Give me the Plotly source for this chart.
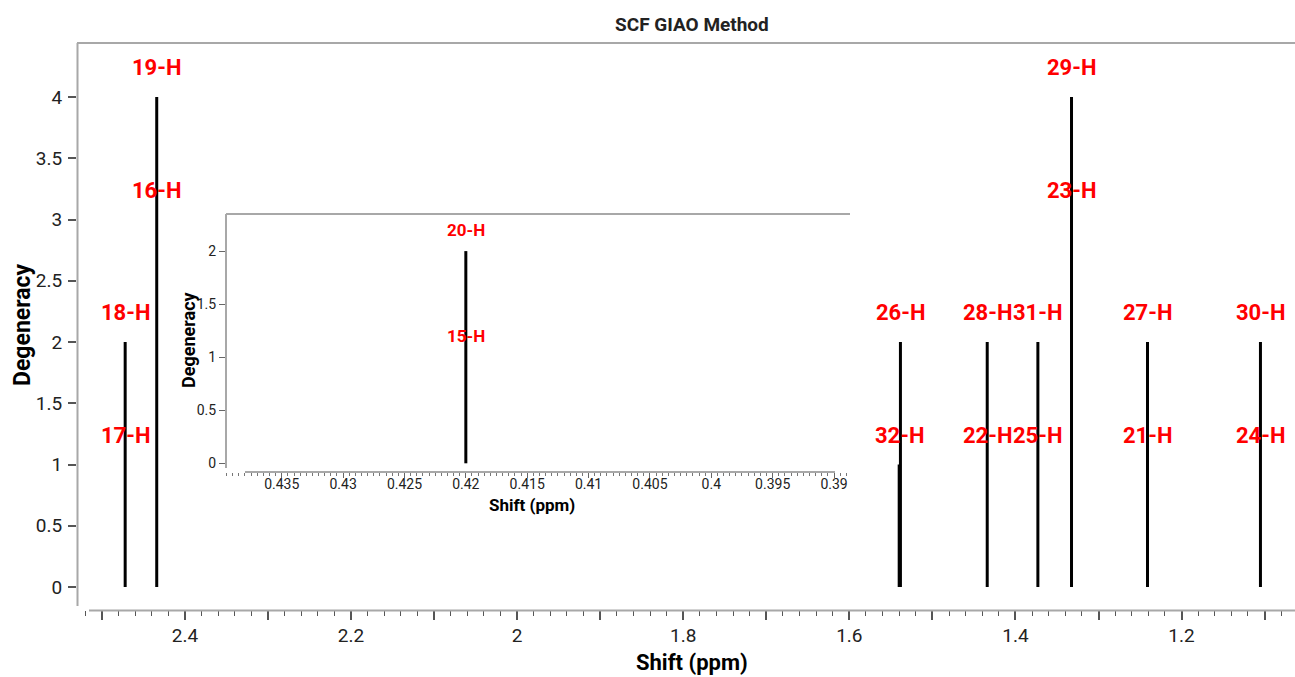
import plotly.graph_objects as go

# ---------------- data ----------------
main_shift = [2.472, 2.434, 1.5385, 1.5400, 1.434, 1.373, 1.3325, 1.241, 1.105]
main_degeneracy = [2, 4, 2, 1, 2, 2, 4, 2, 2]
main_label_top = ["18-H", "19-H", "26-H", "32-H", "28-H", "31-H", "29-H", "27-H", "30-H"]
main_label_low = ["17-H", "16-H", None, None, "22-H", "25-H", "23-H", "21-H", "24-H"]

inset_shift = [0.420]
inset_degeneracy = [2]
inset_label_top = ["20-H"]
inset_label_low = ["15-H"]

main_xticks = [2.5, 2.4, 2.3, 2.2, 2.1, 2.0, 1.9, 1.8, 1.7, 1.6, 1.5, 1.4, 1.3, 1.2, 1.1]
main_xticktext = ["", "2.4", "", "2.2", "", "2", "", "1.8", "", "1.6", "", "1.4", "", "1.2", ""]
main_yticks = [0, 0.5, 1, 1.5, 2, 2.5, 3, 3.5, 4]
inset_xticks = [0.435, 0.43, 0.425, 0.42, 0.415, 0.41, 0.405, 0.4, 0.395, 0.39]
inset_yticks = [0, 0.5, 1, 1.5, 2]

title_text = "SCF GIAO Method"
x_title = "Shift (ppm)"
y_title = "Degeneracy"

# ---------------- layout geometry ----------------
W, H = 1295, 677
L, R, T, B = 77, 1295, 43, 610


def px(xp):
    return (xp - L) / (R - L)


def py(yp):
    return (B - yp) / (B - T)


FONT = "Roboto, Arial, sans-serif"
RED = "#ff0000"
AXC = "#a8a8a8"
TXT = "#222222"

fig = go.Figure()


def stick_trace(xs, hs, xa, ya):
    X, Y = [], []
    for x, h in zip(xs, hs):
        X += [x, x, None]
        Y += [0, h, None]
    return go.Scatter(x=X, y=Y, mode="lines", line=dict(color="black", width=3),
                      xaxis=xa, yaxis=ya, hoverinfo="skip", showlegend=False)


fig.add_trace(stick_trace(main_shift, main_degeneracy, "x", "y"))
fig.add_trace(stick_trace(inset_shift, inset_degeneracy, "x2", "y2"))

annotations = []
for x, h, lt, ll in zip(main_shift, main_degeneracy, main_label_top, main_label_low):
    annotations.append(dict(x=x, y=h + 0.24, xref="x", yref="y", text=lt, showarrow=False,
                            font=dict(family=FONT, size=22, color=RED, weight="bold"),
                            xanchor="center", yanchor="middle"))
    if ll:
        annotations.append(dict(x=x, y=h - 1 + 0.24, xref="x", yref="y", text=ll, showarrow=False,
                                font=dict(family=FONT, size=22, color=RED, weight="bold"),
                                xanchor="center", yanchor="middle"))
for x, h, lt, ll in zip(inset_shift, inset_degeneracy, inset_label_top, inset_label_low):
    annotations.append(dict(x=x, y=h + 0.2, xref="x2", yref="y2", text=lt, showarrow=False,
                            font=dict(family=FONT, size=17, color=RED, weight="bold"),
                            xanchor="center", yanchor="middle"))
    annotations.append(dict(x=x, y=h - 1 + 0.2, xref="x2", yref="y2", text=ll, showarrow=False,
                            font=dict(family=FONT, size=17, color=RED, weight="bold"),
                            xanchor="center", yanchor="middle"))

# titles
annotations.append(dict(x=px(692), y=py(25), xref="paper", yref="paper", text=title_text,
                        showarrow=False, font=dict(family=FONT, size=19, color=TXT, weight="bold"),
                        xanchor="center", yanchor="middle"))
annotations.append(dict(x=px(692), y=py(662), xref="paper", yref="paper", text=x_title,
                        showarrow=False, font=dict(family=FONT, size=22, color="black", weight="bold"),
                        xanchor="center", yanchor="middle"))
annotations.append(dict(x=px(22), y=py(325), xref="paper", yref="paper", text=y_title, textangle=-90,
                        showarrow=False, font=dict(family=FONT, size=23, color="black", weight="bold"),
                        xanchor="center", yanchor="middle"))
annotations.append(dict(x=px(532), y=py(505), xref="paper", yref="paper", text=x_title,
                        showarrow=False, font=dict(family=FONT, size=17, color="black", weight="bold"),
                        xanchor="center", yanchor="middle"))
annotations.append(dict(x=px(188), y=py(340), xref="paper", yref="paper", text=y_title, textangle=-90,
                        showarrow=False, font=dict(family=FONT, size=18, color="black", weight="bold"),
                        xanchor="center", yanchor="middle"))

# frame / axis lines
shapes = [
    dict(type="line", xref="paper", yref="paper", x0=px(77), x1=px(1295), y0=py(43), y1=py(43),
         line=dict(color=AXC, width=2)),
    dict(type="line", xref="paper", yref="paper", x0=px(77.5), x1=px(77.5), y0=py(43), y1=py(606),
         line=dict(color=AXC, width=2)),
    dict(type="line", xref="paper", yref="paper", x0=px(89), x1=px(1295), y0=py(610.5), y1=py(610.5),
         line=dict(color=AXC, width=2)),
    dict(type="line", xref="paper", yref="paper", x0=px(226), x1=px(850), y0=py(214), y1=py(214),
         line=dict(color=AXC, width=2)),
    dict(type="line", xref="paper", yref="paper", x0=px(226), x1=px(226), y0=py(214), y1=py(468),
         line=dict(color=AXC, width=2)),
    dict(type="line", xref="paper", yref="paper", x0=px(245), x1=px(835), y0=py(472), y1=py(472),
         line=dict(color=AXC, width=2)),
]

fig.update_layout(
    width=W, height=H,
    margin=dict(l=L, r=W - R, t=T, b=H - B),
    paper_bgcolor="white", plot_bgcolor="white",
    showlegend=False,
    annotations=annotations,
    shapes=shapes,
    xaxis=dict(domain=[0, 1], range=[2.530, 1.0634], showgrid=False, zeroline=False, showline=False,
               tickmode="array", tickvals=main_xticks, ticktext=main_xticktext,
               ticks="outside", ticklen=9, tickwidth=1.5, tickcolor="#555",
               ticklabelstandoff=-1,
               minor=dict(dtick=0.02, tick0=0, ticks="outside", ticklen=5, tickcolor="#555", tickwidth=1.2),
               tickfont=dict(family=FONT, size=19, color=TXT)),
    yaxis=dict(domain=[0, 1], range=[-0.1878, 4.4408], showgrid=False, zeroline=False, showline=False,
               tickmode="array", tickvals=main_yticks, ticks="outside", ticklen=8, tickwidth=1.5,
               tickcolor="#555", ticklabelstandoff=2,
               tickfont=dict(family=FONT, size=19, color=TXT)),
    xaxis2=dict(domain=[px(226), px(850)], anchor="y2", range=[0.43954, 0.3887], showgrid=False,
                zeroline=False, showline=False, tickmode="array", tickvals=inset_xticks,
                ticks="outside", ticklen=5, tickwidth=1.2, tickcolor="#666",
                ticklabelstandoff=-6,
                minor=dict(dtick=0.0005, tick0=0, ticks="outside", ticklen=3, tickcolor="#777", tickwidth=1),
                tickfont=dict(family=FONT, size=14, color=TXT)),
    yaxis2=dict(domain=[py(472), py(214)], anchor="x2", range=[-0.082, 2.3497], showgrid=False,
                zeroline=False, showline=False, tickmode="array", tickvals=inset_yticks,
                ticks="outside", ticklen=6, tickwidth=1.2, tickcolor="#666",
                tickfont=dict(family=FONT, size=14, color=TXT)),
)

fig.write_html("out.html", config={"displayModeBar": False},
               post_script="document.body.style.margin='0px';document.body.style.overflow='hidden';")
